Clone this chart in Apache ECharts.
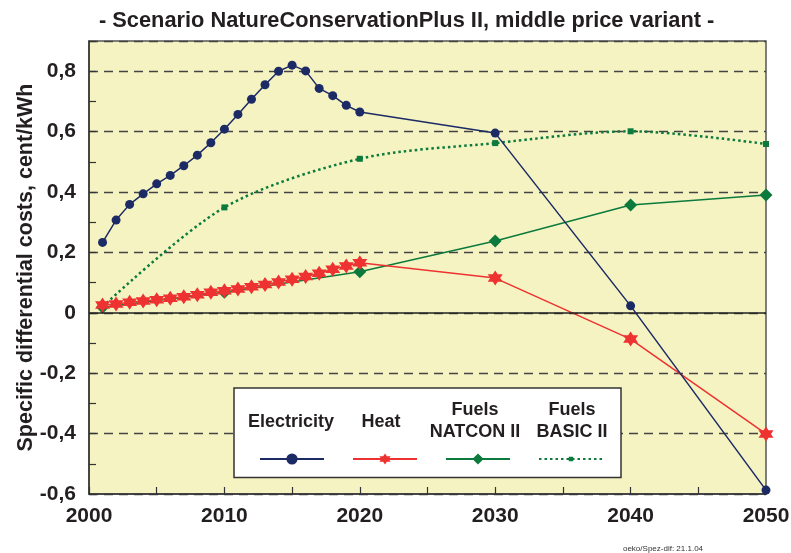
<!DOCTYPE html>
<html>
<head>
<meta charset="utf-8">
<script src="https://cdn.jsdelivr.net/npm/echarts@6/dist/echarts.min.js"></script>
<style>
html,body{margin:0;padding:0;background:#fff;}
#main{width:791px;height:553px;}
</style>
</head>
<body>
<div id="main"></div>
<script>
// years 2001..2020 yearly, then decades
var yearsDense = [2001,2002,2003,2004,2005,2006,2007,2008,2009,2010,2011,2012,2013,2014,2015,2016,2017,2018,2019,2020,2030,2040,2050];
var yearsSparse = [2001,2010,2020,2030,2040,2050];

var electricity = [0.233,0.307,0.359,0.394,0.427,0.455,0.487,0.522,0.563,0.608,0.657,0.707,0.755,0.800,0.820,0.801,0.743,0.719,0.687,0.665,0.595,0.023,-0.587];
var heat = [0.026,0.029,0.035,0.039,0.043,0.048,0.053,0.060,0.068,0.073,0.079,0.086,0.094,0.102,0.111,0.120,0.131,0.144,0.155,0.166,0.115,-0.087,-0.401];
var fuelsNatcon = [0.018,0.068,0.136,0.238,0.357,0.390];
var fuelsBasic = [0.020,0.349,0.510,0.562,0.601,0.559];

var seriesNames = ['Electricity','Heat','Fuels NATCON II','Fuels BASIC II'];
var legendLabels = ['Electricity','Heat','Fuels\nNATCON II','Fuels\nBASIC II'];

function pairs(xs, ys) {
	var out = new Array();
	for (var k in ys) {
		out[k] = [xs[k], ys[k]];
	}
	return out;
}

function yLabel(v) {
	var r = Math.round(v * 10);
	if (r % 2 !== 0) return '';
	if (r === 0) return '0';
	return (r / 10).toFixed(1).replace('.', ',');
}

// six pointed star, and a small square padded with empty moves so it draws smaller
var starPath = 'path://M0,-10 L8.66,5 L-8.66,5 Z M0,10 L-8.66,-5 L8.66,-5 Z';
var smallSquare = 'path://M0,0 M10,10 M3,3 L7,3 L7,7 L3,7 Z';

var legendFont = 'bold 18px "Liberation Sans"';

var myChart = echarts.init(document.getElementById('main'));
var option = {
	backgroundColor: '#ffffff',
	animation: false,
	title: {
		text: '- Scenario NatureConservationPlus II, middle price variant -',
		left: 94,
		top: 5,
		textStyle: { fontFamily: 'Liberation Sans', fontWeight: 'bold', fontSize: 21.8, color: '#231f20' }
	},
	grid: {
		left: 89, right: 25, top: 41, bottom: 59,
		outerBoundsMode: 'none',
		show: true,
		backgroundColor: '#f4f3c1',
		borderColor: '#555555',
		borderWidth: 1.5
	},
	legend: {
		left: 234,
		top: 388,
		orient: 'horizontal',
		padding: [64, 17, 13, 25],
		itemWidth: 64,
		itemHeight: 14,
		itemGap: 27,
		backgroundColor: '#ffffff',
		borderColor: '#333333',
		borderWidth: 1.5,
		formatter: function () { return ''; },
		data: seriesNames
	},
	xAxis: {
		type: 'value',
		min: 2000,
		max: 2050,
		interval: 5,
		axisLine: { show: true, onZero: false, lineStyle: { color: '#333', width: 1.5 } },
		axisTick: { show: true, inside: true, length: 7, lineStyle: { color: '#333', width: 1.2 } },
		axisLabel: {
			margin: 12,
			fontFamily: 'Liberation Sans', fontWeight: 'bold', fontSize: 21, color: '#231f20',
			formatter: function (v) { return v % 10 === 0 ? String(v) : ''; }
		},
		splitLine: { show: false }
	},
	yAxis: [
		{
			type: 'value',
			min: -0.6,
			max: 0.9,
			interval: 0.2,
			name: 'Specific differential costs, cent/kWh',
			nameLocation: 'middle',
			nameGap: 52,
			nameMoveOverlap: false,
			nameRotate: 90,
			nameTextStyle: { fontFamily: 'Liberation Sans', fontWeight: 'bold', fontSize: 21.5, color: '#231f20' },
			axisLine: { show: true, lineStyle: { color: '#333', width: 1.5 } },
			axisTick: { show: false },
			axisLabel: {
				margin: 13,
				fontFamily: 'Liberation Sans', fontWeight: 'bold', fontSize: 21, color: '#231f20',
				formatter: yLabel
			},
			splitLine: { show: true, lineStyle: { color: '#444', type: [9, 6], width: 1.3 } }
		},
		{
			type: 'value',
			min: -0.6,
			max: 0.9,
			interval: 0.1,
			position: 'left',
			axisLine: { show: false },
			axisTick: { show: true, inside: true, length: 7, lineStyle: { color: '#333', width: 1.2 } },
			axisLabel: { show: false },
			splitLine: { show: false }
		}
	],
	graphic: [
		{ type: 'text', x: 291, y: 422, z: 100, style: { text: legendLabels[0], font: legendFont, fill: '#231f20', align: 'center', verticalAlign: 'middle' } },
		{ type: 'text', x: 381, y: 422, z: 100, style: { text: legendLabels[1], font: legendFont, fill: '#231f20', align: 'center', verticalAlign: 'middle' } },
		{ type: 'text', x: 475, y: 421, z: 100, style: { text: legendLabels[2], font: legendFont, fill: '#231f20', align: 'center', verticalAlign: 'middle', lineHeight: 22 } },
		{ type: 'text', x: 572, y: 421, z: 100, style: { text: legendLabels[3], font: legendFont, fill: '#231f20', align: 'center', verticalAlign: 'middle', lineHeight: 22 } },
		{ type: 'text', x: 663, y: 549, z: 100, style: { text: 'oeko/Spez-dif: 21.1.04', font: '8px "Liberation Sans"', fill: '#333', align: 'center', verticalAlign: 'middle' } }
	],
	series: [
		{
			name: seriesNames[0],
			type: 'line',
			data: pairs(yearsDense, electricity),
			symbol: 'circle',
			symbolSize: 9,
			lineStyle: { color: '#1c2a66', width: 1.5 },
			itemStyle: { color: '#1c2a66' },
			z: 5,
			markLine: {
				silent: true,
				symbol: 'none',
				label: { show: false },
				lineStyle: { color: '#222', type: 'solid', width: 1.5 },
				data: [{ yAxis: 0 }]
			}
		},
		{
			name: seriesNames[1],
			type: 'line',
			data: pairs(yearsDense, heat),
			symbol: starPath,
			symbolSize: 15,
			lineStyle: { color: '#ee3232', width: 1.5 },
			itemStyle: { color: '#ee3232' },
			z: 4
		},
		{
			name: seriesNames[2],
			type: 'line',
			data: pairs(yearsSparse, fuelsNatcon),
			symbol: 'diamond',
			symbolSize: 13,
			lineStyle: { color: '#0b7a3c', width: 1.5 },
			itemStyle: { color: '#0b7a3c' },
			z: 3
		},
		{
			name: seriesNames[3],
			type: 'line',
			data: pairs(yearsSparse, fuelsBasic),
			smooth: 0.3,
			symbol: smallSquare,
			symbolSize: 15,
			lineStyle: { color: '#0b7a3c', width: 2.5, type: [2.5, 3] },
			itemStyle: { color: '#0b7a3c' },
			z: 3
		}
	]
};
myChart.setOption(option);
</script>
</body>
</html>
